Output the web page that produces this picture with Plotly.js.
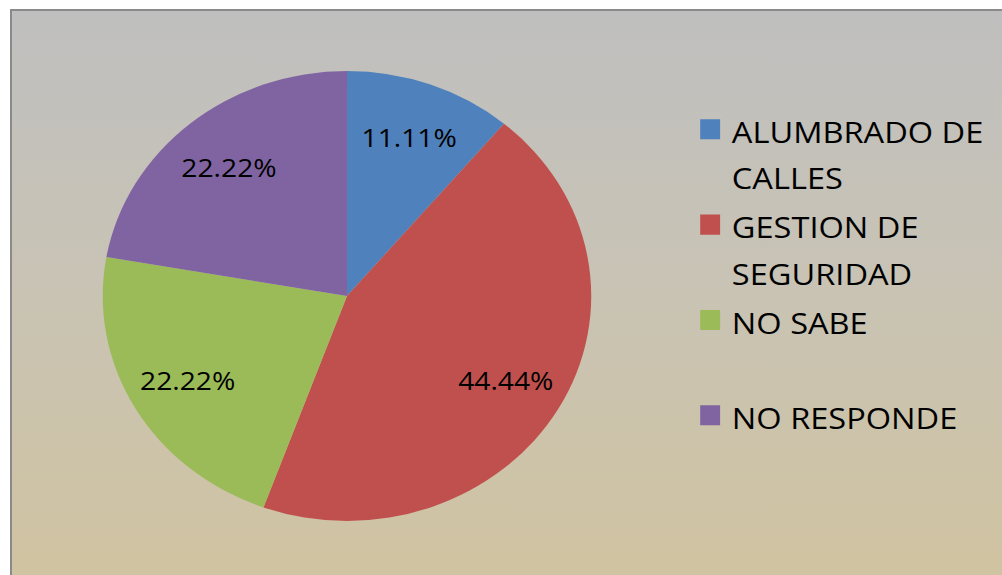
<!DOCTYPE html>
<html>
<head>
<meta charset="utf-8">
<script src="https://cdn.plot.ly/plotly-3.0.1.min.js"></script>
<style>
  html, body { margin: 0; padding: 0; background: #ffffff; overflow: hidden; width: 1002px; height: 575px; }
  #bg {
    position: absolute; left: 10px; top: 9px; width: 1000px; height: 580px;
    border-left: 2px solid #8a8a8a; border-top: 2px solid #8a8a8a;
    background: linear-gradient(to bottom, #bfbfbf 0%, #c8c3b5 45%, #d0c3a0 100%);
  }
  #chart {
    position: absolute; left: 0; top: 0; width: 923px; height: 575px;
    transform: scaleX(1.0857); transform-origin: 0 0;
  }
  #chart .legendpoints path.legendpie {
    transform-box: fill-box; transform-origin: center;
    transform: translate(20px, 0) scale(1.53, 1.67);
  }
</style>
</head>
<body>
<div id="bg"></div>
<div id="chart"></div>
<script>
// Data
var categories = ['ALUMBRADO DE<br>CALLES', 'GESTION DE<br>SEGURIDAD', 'NO SABE<br> ', 'NO RESPONDE<br> '];
var counts = [1, 4, 2, 2];
var sliceColors = ['#4f81bd', '#c0504d', '#9bbb59', '#8064a2'];

var W = 923, H = 575;
var domX = [0.1025, 0.590];
var domY = [0.0939, 0.8765];
var LABEL_R = 0.75;

var legendLabels = categories.map(function (c) {
  return c.split('<br>').map(function (s) {
    return '<span style="font-size:30px">' + s + '</span>';
  }).join('<br>');
});

var trace = {
  type: 'pie',
  labels: legendLabels,
  values: counts,
  sort: false,
  direction: 'clockwise',
  rotation: 0,
  marker: { colors: sliceColors, line: { width: 0 } },
  textinfo: 'none',
  hoverinfo: 'percent',
  domain: { x: domX, y: domY }
};

// percentage labels placed from the data (cumulative angles), like Excel's
var total = counts.reduce(function (a, b) { return a + b; }, 0);
var cxP = (domX[0] + domX[1]) / 2, cyP = (domY[0] + domY[1]) / 2;
var rPx = Math.min((domX[1] - domX[0]) * W, (domY[1] - domY[0]) * H) / 2;
var rxP = rPx / W, ryP = rPx / H;
var cum = 0;
var annotations = counts.map(function (v) {
  var mid = (cum + v / 2) / total * 2 * Math.PI;
  cum += v;
  return {
    xref: 'paper', yref: 'paper',
    x: cxP + LABEL_R * rxP * Math.sin(mid),
    y: cyP + LABEL_R * ryP * Math.cos(mid),
    text: (v / total * 100).toFixed(2) + '%',
    showarrow: false,
    xanchor: 'center', yanchor: 'middle',
    font: { family: 'Open Sans, sans-serif', size: 26, color: '#000000' }
  };
});

var layout = {
  width: W,
  height: H,
  margin: { l: 0, r: 0, t: 0, b: 0 },
  paper_bgcolor: 'rgba(0,0,0,0)',
  plot_bgcolor: 'rgba(0,0,0,0)',
  showlegend: true,
  annotations: annotations,
  legend: {
    x: 0.687, xanchor: 'left',
    y: 0.8265, yanchor: 'top',
    valign: 'top',
    bgcolor: 'rgba(0,0,0,0)',
    font: { family: 'Open Sans, sans-serif', size: 35.5, color: '#000000' }
  },
  font: { family: 'Open Sans, sans-serif' }
};

Plotly.newPlot('chart', [trace], layout, { displayModeBar: false, staticPlot: true });
</script>
</body>
</html>
